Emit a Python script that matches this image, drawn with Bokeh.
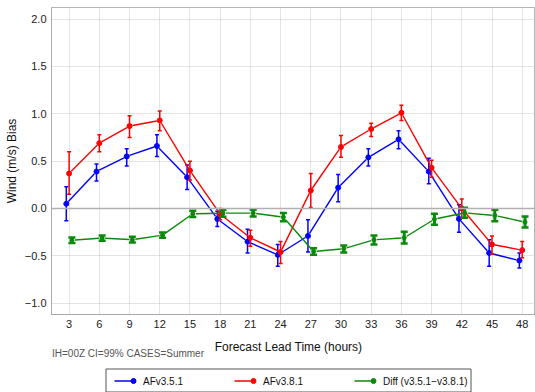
import math

from bokeh.core.properties import value
from bokeh.embed import file_html
from bokeh.layouts import column
from bokeh.models import FixedTicker, Span
from bokeh.plotting import figure
from bokeh.resources import INLINE

# Forecast lead times (hours)
lead_hours = [3, 6, 9, 12, 15, 18, 21, 24, 27, 30, 33, 36, 39, 42, 45, 48]

# AFv3.5.1 wind bias with 99% confidence limits
af351_bias = [0.05, 0.39, 0.55, 0.66, 0.33, -0.11, -0.35, -0.49,
              -0.29, 0.22, 0.54, 0.73, 0.39, -0.11, -0.47, -0.55]
af351_lo = [-0.13, 0.29, 0.45, 0.55, 0.20, -0.19, -0.47, -0.61,
            -0.46, 0.07, 0.45, 0.63, 0.26, -0.25, -0.61, -0.63]
af351_hi = [0.23, 0.47, 0.63, 0.78, 0.46, -0.03, -0.22, -0.38,
            -0.12, 0.36, 0.63, 0.82, 0.53, 0.04, -0.33, -0.47]

# AFv3.8.1 wind bias with 99% confidence limits
af381_bias = [0.37, 0.69, 0.87, 0.93, 0.40, -0.06, -0.31, -0.46,
              0.19, 0.65, 0.84, 1.01, 0.43, 0.00, -0.38, -0.44]
af381_lo = [0.15, 0.60, 0.75, 0.82, 0.30, -0.12, -0.40, -0.58,
            0.01, 0.54, 0.76, 0.93, 0.33, -0.10, -0.48, -0.52]
af381_hi = [0.60, 0.78, 0.98, 1.03, 0.50, 0.00, -0.23, -0.35,
            0.37, 0.77, 0.90, 1.09, 0.51, 0.10, -0.29, -0.35]

# Paired difference (v3.5.1 - v3.8.1) with 99% confidence limits
diff_bias = [-0.335, -0.313, -0.330, -0.282, -0.056, -0.049, -0.049, -0.092,
             -0.454, -0.426, -0.331, -0.310, -0.113, -0.046, -0.074, -0.144]
diff_lo = [-0.366, -0.340, -0.360, -0.310, -0.090, -0.088, -0.085, -0.134,
           -0.489, -0.464, -0.380, -0.370, -0.172, -0.099, -0.134, -0.200]
diff_hi = [-0.306, -0.285, -0.300, -0.254, -0.025, -0.014, -0.014, -0.049,
           -0.419, -0.390, -0.285, -0.247, -0.056, 0.007, -0.014, -0.085]

y_ticks = [-1.0, -0.5, 0.0, 0.5, 1.0, 1.5, 2.0]

series_names = ["AFv3.5.1", "AFv3.8.1", "Diff (v3.5.1\u2212v3.8.1)"]
note_text = "IH=00Z CI=99% CASES=Summer"
x_title = "Forecast Lead Time (hours)"
y_title = "Wind (m/s) Bias"

FONT = "Liberation Sans"
BLUE, RED, GREEN = "#0000ff", "#ff0000", "#0a8a0a"

W = 535
H_MAIN, H_FOOT = 334, 58
BL, BR, BT, BB = 51, 0, 7, 20
X_RANGE = (1.25, 49.32)
Y_RANGE = (-1.12, 2.123)

# pixels per data unit, used to leave small gaps between line ends and markers
SX = (W - BL - BR) / (X_RANGE[1] - X_RANGE[0])
SY = (H_MAIN - BT - BB) / (Y_RANGE[1] - Y_RANGE[0])

p = figure(width=W, height=H_MAIN, x_range=X_RANGE, y_range=Y_RANGE,
           output_backend="svg", toolbar_location=None,
           min_border_left=BL, min_border_right=BR,
           min_border_top=BT, min_border_bottom=BB)
p.background_fill_color = "white"
p.border_fill_color = "white"
p.outline_line_color = "#b5b5b5"
p.outline_line_width = 1

# axes
p.xaxis.ticker = FixedTicker(ticks=lead_hours)
p.yaxis.ticker = FixedTicker(ticks=y_ticks)
p.yaxis.major_label_overrides = {t: f"{t:.1f}".replace("-", "\u2212") for t in y_ticks}
for ax in (p.xaxis[0], p.yaxis[0]):
    ax.axis_line_color = "#aaaaaa"
    ax.axis_line_width = 1
    ax.major_tick_line_color = None
    ax.minor_tick_line_color = None
    ax.major_tick_out = 0
    ax.major_tick_in = 0
    ax.major_label_standoff = 5
    ax.major_label_text_font = FONT
    ax.major_label_text_font_size = "11px"
    ax.major_label_text_color = "#222222"
p.yaxis.axis_label = y_title
p.yaxis.axis_label_text_font = FONT
p.yaxis.axis_label_text_font_size = "12px"
p.yaxis.axis_label_text_font_style = "normal"
p.yaxis.axis_label_text_color = "#111111"
p.yaxis.axis_label_standoff = 3

# dotted grid
p.xgrid.ticker = FixedTicker(ticks=lead_hours)
p.ygrid.ticker = FixedTicker(ticks=y_ticks)
for g in (p.xgrid[0], p.ygrid[0]):
    g.grid_line_color = "#c8c8c8"
    g.grid_line_dash = "1 1"
    g.grid_line_width = 1

p.add_layout(Span(location=0, dimension="width", line_color="#b0b0b0", line_width=1.5))


def gapped_segments(xs, ys, gap=3.0):
    """Segments between consecutive points, shortened by `gap` pixels at each end."""
    x0, y0, x1, y1 = [], [], [], []
    for xa, ya, xb, yb in zip(xs, ys, xs[1:], ys[1:]):
        dxp = (xb - xa) * SX
        dyp = (yb - ya) * SY
        f = gap / math.hypot(dxp, dyp)
        x0.append(xa + (xb - xa) * f)
        y0.append(ya + (yb - ya) * f)
        x1.append(xb - (xb - xa) * f)
        y1.append(yb - (yb - ya) * f)
    return x0, y0, x1, y1


def draw_series(offset, bias, lo, hi, color, bar_w, cap_size, cap_w, dot_size):
    xs = [h + offset for h in lead_hours]
    x0, y0, x1, y1 = gapped_segments(xs, bias)
    p.segment(x0=x0, y0=y0, x1=x1, y1=y1, line_color=color, line_width=1.4)
    p.segment(x0=xs, y0=lo, x1=xs, y1=hi, line_color=color, line_width=bar_w)
    p.scatter(x=xs, y=lo, marker="dash", size=cap_size, line_color=color, line_width=cap_w)
    p.scatter(x=xs, y=hi, marker="dash", size=cap_size, line_color=color, line_width=cap_w)
    p.scatter(x=xs, y=bias, marker="circle", size=dot_size,
              fill_color=color, line_color=color)


draw_series(-0.28, af351_bias, af351_lo, af351_hi, BLUE, 1.5, 4, 1.5, 5)
draw_series(0.0, af381_bias, af381_lo, af381_hi, RED, 1.5, 4, 1.5, 5)
draw_series(0.28, diff_bias, diff_lo, diff_hi, GREEN, 3, 7, 2.5, 4)

# footer strip: axis title, case note and legend. Its frame lines up with the
# main frame, so the x range is given in page pixels from BL to W.
foot = figure(width=W, height=H_FOOT, x_range=(BL, W), y_range=(0, H_FOOT),
              x_axis_type=None, y_axis_type=None, output_backend="svg",
              toolbar_location=None, min_border_left=BL, min_border_right=0,
              min_border_top=0, min_border_bottom=0)
foot.outline_line_color = None
foot.background_fill_color = "white"
foot.border_fill_color = "white"

foot.text(x=[288], y=[45.5], text=[x_title], text_font=value(FONT),
          text_font_size="12px", text_color="#111111",
          text_align="center", text_baseline="middle")
foot.text(x=[51.5], y=[39.5], text=[note_text], text_font=value(FONT),
          text_font_size="10px", text_color="#555555",
          text_align="left", text_baseline="middle")

# legend box with one line-and-dot key per series
foot.quad(left=[105.5], right=[470.5], bottom=[0.5], top=[23.5],
          fill_color="white", line_color="#555555", line_width=1)
key_left = [114, 234, 354]
key_len = 19
key_y = 11.5
for kx, name, color in zip(key_left, series_names, [BLUE, RED, GREEN]):
    foot.segment(x0=[kx], y0=[key_y], x1=[kx + key_len], y1=[key_y],
                 line_color=color, line_width=1.5)
    foot.scatter(x=[kx + key_len], y=[key_y], marker="circle", size=5,
                 fill_color=color, line_color=color)
    foot.text(x=[kx + key_len + 9.5], y=[key_y], text=[name], text_font=value(FONT),
              text_font_size="10px", text_color="#111111",
              text_align="left", text_baseline="middle")

layout = column(p, foot, spacing=0)
open("out.html", "w").write(file_html(layout, INLINE))
